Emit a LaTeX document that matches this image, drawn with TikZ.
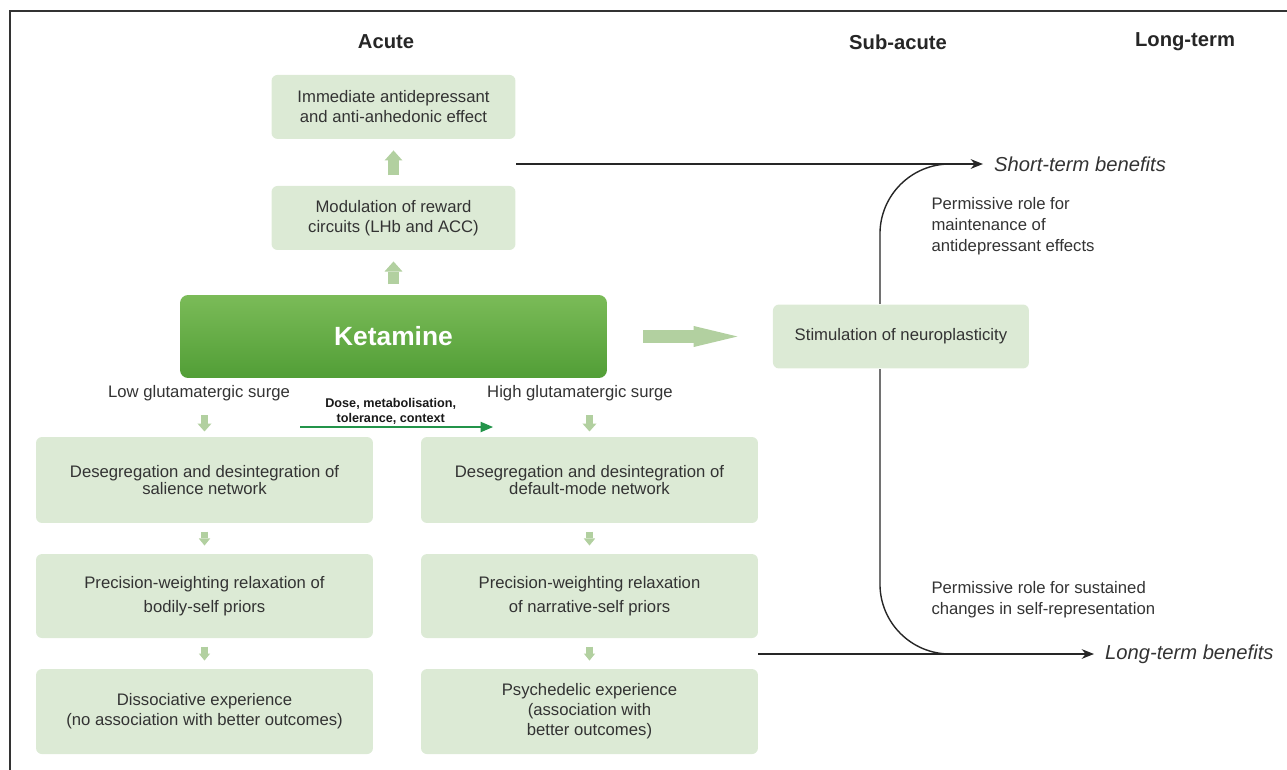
\documentclass[tikz,border=0pt]{standalone}
\usepackage{fontspec}
\setmainfont{Liberation Sans}
\usetikzlibrary{positioning,arrows.meta,calc}

\definecolor{boxgreen}{HTML}{DCEAD5}
\definecolor{ketlight}{HTML}{7BBB58}
\definecolor{ketdark}{HTML}{519E36}
\definecolor{arrowgreen}{HTML}{B2D0A0}
\definecolor{dosegreen}{HTML}{23944A}
\definecolor{txtgray}{HTML}{333333}

\begin{document}
\begin{tikzpicture}[x=0.02cm,y=-0.02cm,semithick,align=center,
  every node/.style={text=txtgray,font=\fontsize{9.5}{11.4}\selectfont},
  phase/.style={font=\bfseries\fontsize{11.5}{14}\selectfont,text=black!85},
  effect/.style={fill=boxgreen,rounded corners=0.12cm,inner sep=2pt},
  topbox/.style={effect,minimum width=4.88cm,minimum height=1.28cm},
  netbox/.style={effect,minimum width=6.74cm,minimum height=1.70cm},
  drug/.style={top color=ketlight,bottom color=ketdark,rounded corners=0.16cm,minimum width=8.54cm,minimum height=1.66cm,text=white,font=\bfseries\fontsize{15}{18}\selectfont},
  benefit/.style={font=\itshape\fontsize{11.5}{14}\selectfont,inner xsep=6pt},
  note/.style={align=left,inner sep=0pt,font=\fontsize{9.5}{12}\selectfont},
  fat/.style={color=arrowgreen,line width=6.2pt,-{Triangle[width=10.2pt,length=5.7pt,line width=0pt]},shorten <=0.2cm,shorten >=0.22cm},
  slim/.style={color=arrowgreen,line width=4pt,-{Triangle[width=6.5pt,length=4pt,line width=0pt]},shorten <=0.16cm,shorten >=0.16cm},
  surgearr/.style={color=arrowgreen,line width=4.5pt,-{Triangle[width=8pt,length=4.5pt,line width=0pt]},shorten <=0.16cm,shorten >=0.1cm},
  big/.style={color=arrowgreen,line width=7.4pt,-{Triangle[width=12pt,length=25pt,line width=0pt]},shorten <=0.72cm,shorten >=0.7cm},
  dosearr/.style={color=dosegreen,line width=0.8pt,-{Triangle[width=6pt,length=7pt,line width=0pt]}},
  lead/.style={color=black!85,line width=0.8pt},
  leadarr/.style={lead,-{Stealth[length=7pt,width=5.5pt]}}]
  \useasboundingbox (0,0) rectangle (1287,770);
  \draw[line width=0.9pt,black!80] (10,770) -- (10,11) -- (1287,11);

  % phases
  \node[phase] (acute) at (386,42) {Acute};
  \node[phase] (subacute) at (898,42) {Sub-acute};
  \node[phase] (longterm) at (1185,42) {Long-term};

  % acute column
  \node[drug] (ket) at (393.5,336.5) {Ketamine};
  \node[topbox,above=0.88cm of ket] (mod) {Modulation of reward\\circuits (LHb and ACC)};
  \node[topbox,above=0.92cm of mod] (imm) {Immediate antidepressant\\and anti-anhedonic effect};
  \node[topbox,right=3.3cm of ket,minimum width=5.12cm] (stim) {Stimulation of neuroplasticity};

  \node (low) at (199,393) {Low glutamatergic surge};
  \node (high) at (580,393) {High glutamatergic surge};

  \node[netbox,minimum height=1.72cm] (l1) at (204.5,480) {Desegregation and desintegration of\\[-1.2pt]salience network};
  \node[netbox,below=0.6cm of l1,minimum height=1.68cm] (l2) {Precision-weighting relaxation of\\[2.6pt]bodily-self priors};
  \node[netbox,below=0.6cm of l2] (l3) {Dissociative experience\\(no association with better outcomes)};
  \node[netbox,right=0.94cm of l1,minimum height=1.72cm] (r1) {Desegregation and desintegration of\\[-1.2pt]default-mode network};
  \node[netbox,below=0.6cm of r1,minimum height=1.68cm] (r2) {Precision-weighting relaxation\\[2.6pt]of narrative-self priors};
  \node[netbox,below=0.6cm of r2] (r3) {Psychedelic experience\\(association with\\better outcomes)};

  % benefits
  \node[benefit,anchor=west] (short) at (983,164) {Short-term benefits};
  \node[benefit,anchor=west] (long) at (1094,654) {Long-term benefits};
  \node[note,anchor=north west] (maint) at (931,197) {Permissive role for\\maintenance of\\antidepressant effects};
  \node[note,anchor=north west] (sust) at (931,581) {Permissive role for sustained\\changes in self-representation};

  \path[fat]
    (ket) edge (mod)
    (mod) edge (imm);
  \path[slim]
    (l1) edge (l2)
    (l2) edge (l3)
    (r1) edge (r2)
    (r2) edge (r3);
  \path[surgearr]
    (low.south -| l1.north) edge (l1.north)
    (high.south -| r1.north) edge (r1.north);
  \path[big] (ket) edge (stim);

  \coordinate (dosefrom) at (300,427);
  \coordinate (doseto) at (493,427);
  \draw[dosearr] (dosefrom) -- (doseto) node[pos=0.47,above=1pt,inner sep=0pt,text=black!90,font=\bfseries\fontsize{7.2}{8.6}\selectfont] (dose) {Dose, metabolisation,\\tolerance, context};

  \draw[leadarr] (short.west -| imm.east) -- (short.west);
  \draw[lead,rounded corners=1.4cm] ([xshift=-0.42cm]stim.north) |- ([xshift=-0.3cm]short.west);
  \draw[leadarr] (long.west -| r2.east) -- (long.west);
  \draw[lead,rounded corners=1.4cm] ([xshift=-0.42cm]stim.south) |- ([xshift=-0.3cm]long.west);
\end{tikzpicture}
\end{document}
